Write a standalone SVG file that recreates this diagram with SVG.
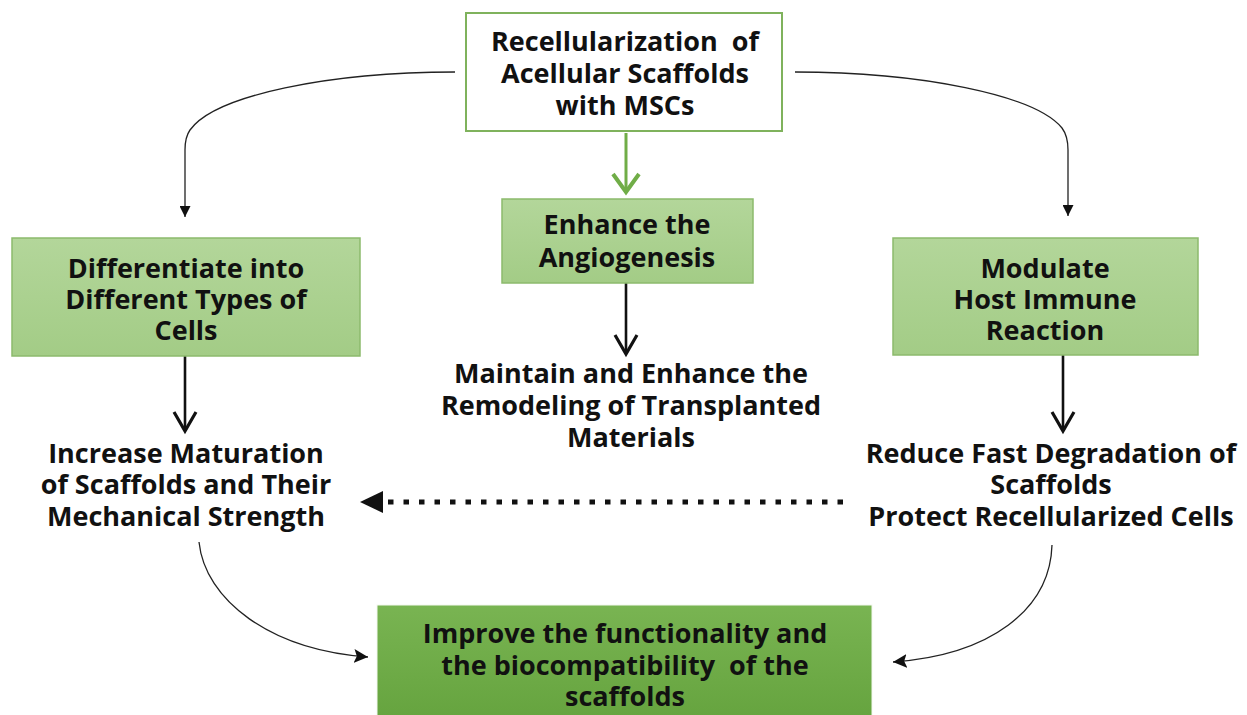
<svg xmlns="http://www.w3.org/2000/svg" width="1247" height="715" viewBox="0 0 1247 715">
<style>
  text { font-family: "Open Sans", "Liberation Sans", sans-serif; font-weight: bold; font-size: 27px; fill: #111; text-anchor: middle; white-space: pre; }
  .box { fill: url(#lg); stroke: #8cba6c; stroke-width: 1.5; }
  .thin { fill: none; stroke: #222; stroke-width: 1.3; }
  .thick { fill: none; stroke: #111; stroke-width: 2.6; }
  .head { fill: none; stroke: #111; stroke-width: 3.2; stroke-linejoin: miter; }
</style>
<defs>
  <linearGradient id="lg" x1="0" y1="0" x2="0" y2="1">
    <stop offset="0" stop-color="#b3d69a"/>
    <stop offset="1" stop-color="#a3cc86"/>
  </linearGradient>
  <linearGradient id="dg" x1="0" y1="0" x2="0" y2="1">
    <stop offset="0" stop-color="#79b452"/>
    <stop offset="1" stop-color="#66a43f"/>
  </linearGradient>
  <marker id="tri" viewBox="0 0 10 10" refX="10" refY="5" markerWidth="11" markerHeight="11" markerUnits="userSpaceOnUse" orient="auto">
    <path d="M0,0 L10,5 L0,10 Z" fill="#111"/>
  </marker>
  <marker id="tri2" viewBox="0 0 10 10" refX="10" refY="5" markerWidth="14" markerHeight="14" markerUnits="userSpaceOnUse" orient="auto">
    <path d="M0,0 L10,5 L0,10 L2,5 Z" fill="#111"/>
  </marker>
</defs>

<g id="connectors">
  <line x1="626" y1="133" x2="626" y2="191" stroke="#70ad47" stroke-width="3"/>
  <path d="M613,174 L626,192 L639,174" fill="none" stroke="#70ad47" stroke-width="4"/>
  <path class="thin" d="M455,72 C330,72 215,95 190,130 Q185,137 185,150 L185,217" marker-end="url(#tri)"/>
  <path class="thin" d="M795,72 C920,72 1035,95 1062,128 Q1068,136 1068,150 L1068,216" marker-end="url(#tri)"/>
  <line class="thick" x1="185" y1="356" x2="185" y2="430"/>
  <path class="head" d="M174,412 L185,431 L196,412"/>
  <line class="thick" x1="626" y1="283" x2="626" y2="353"/>
  <path class="head" d="M615,335 L626,354 L637,335"/>
  <line class="thick" x1="1063" y1="355" x2="1063" y2="430"/>
  <path class="head" d="M1052,412 L1063,431 L1074,412"/>
  <line x1="843" y1="502" x2="386" y2="502" stroke="#111" stroke-width="5" stroke-dasharray="5.5 10"/>
  <path d="M360,502 L383,491 L383,513 Z" fill="#111"/>
  <path class="thin" d="M199,542 C205,600 270,650 368,657" marker-end="url(#tri2)"/>
  <path class="thin" d="M1052,545 C1050,610 990,655 893,662" marker-end="url(#tri2)"/>
</g>

<g id="node-top">
  <rect x="466" y="13" width="316" height="118" fill="#fff" stroke="#7fb25c" stroke-width="2"/>
  <text x="625" y="51">Recellularization  of</text>
  <text x="625" y="83">Acellular Scaffolds</text>
  <text x="625" y="115">with MSCs</text>
</g>

<g id="node-angio">
  <rect class="box" x="502" y="199" width="251" height="84"/>
  <text x="627" y="234">Enhance the</text>
  <text x="627" y="267">Angiogenesis</text>
</g>

<g id="node-diff">
  <rect class="box" x="12" y="238" width="348" height="118"/>
  <text x="186" y="278">Differentiate into</text>
  <text x="186" y="309">Different Types of</text>
  <text x="186" y="340">Cells</text>
</g>

<g id="node-immune">
  <rect class="box" x="893" y="238" width="305" height="117"/>
  <text x="1045" y="278">Modulate</text>
  <text x="1045" y="309">Host Immune</text>
  <text x="1045" y="340">Reaction</text>
</g>

<g id="node-remodel">
  <text x="631" y="383">Maintain and Enhance the</text>
  <text x="631" y="415">Remodeling of Transplanted</text>
  <text x="631" y="447">Materials</text>
</g>

<g id="node-maturation">
  <text x="186" y="463">Increase Maturation</text>
  <text x="186" y="494">of Scaffolds and Their</text>
  <text x="186" y="526">Mechanical Strength</text>
</g>

<g id="node-degradation">
  <text x="1051" y="463">Reduce Fast Degradation of</text>
  <text x="1051" y="494">Scaffolds</text>
  <text x="1051" y="526">Protect Recellularized Cells</text>
</g>

<g id="node-improve">
  <rect x="377" y="605" width="495" height="112" fill="url(#dg)" stroke="#f3f8ef" stroke-width="1"/>
  <text x="625" y="643">Improve the functionality and</text>
  <text x="625" y="675">the biocompatibility  of the</text>
  <text x="625" y="706">scaffolds</text>
</g>
</svg>
